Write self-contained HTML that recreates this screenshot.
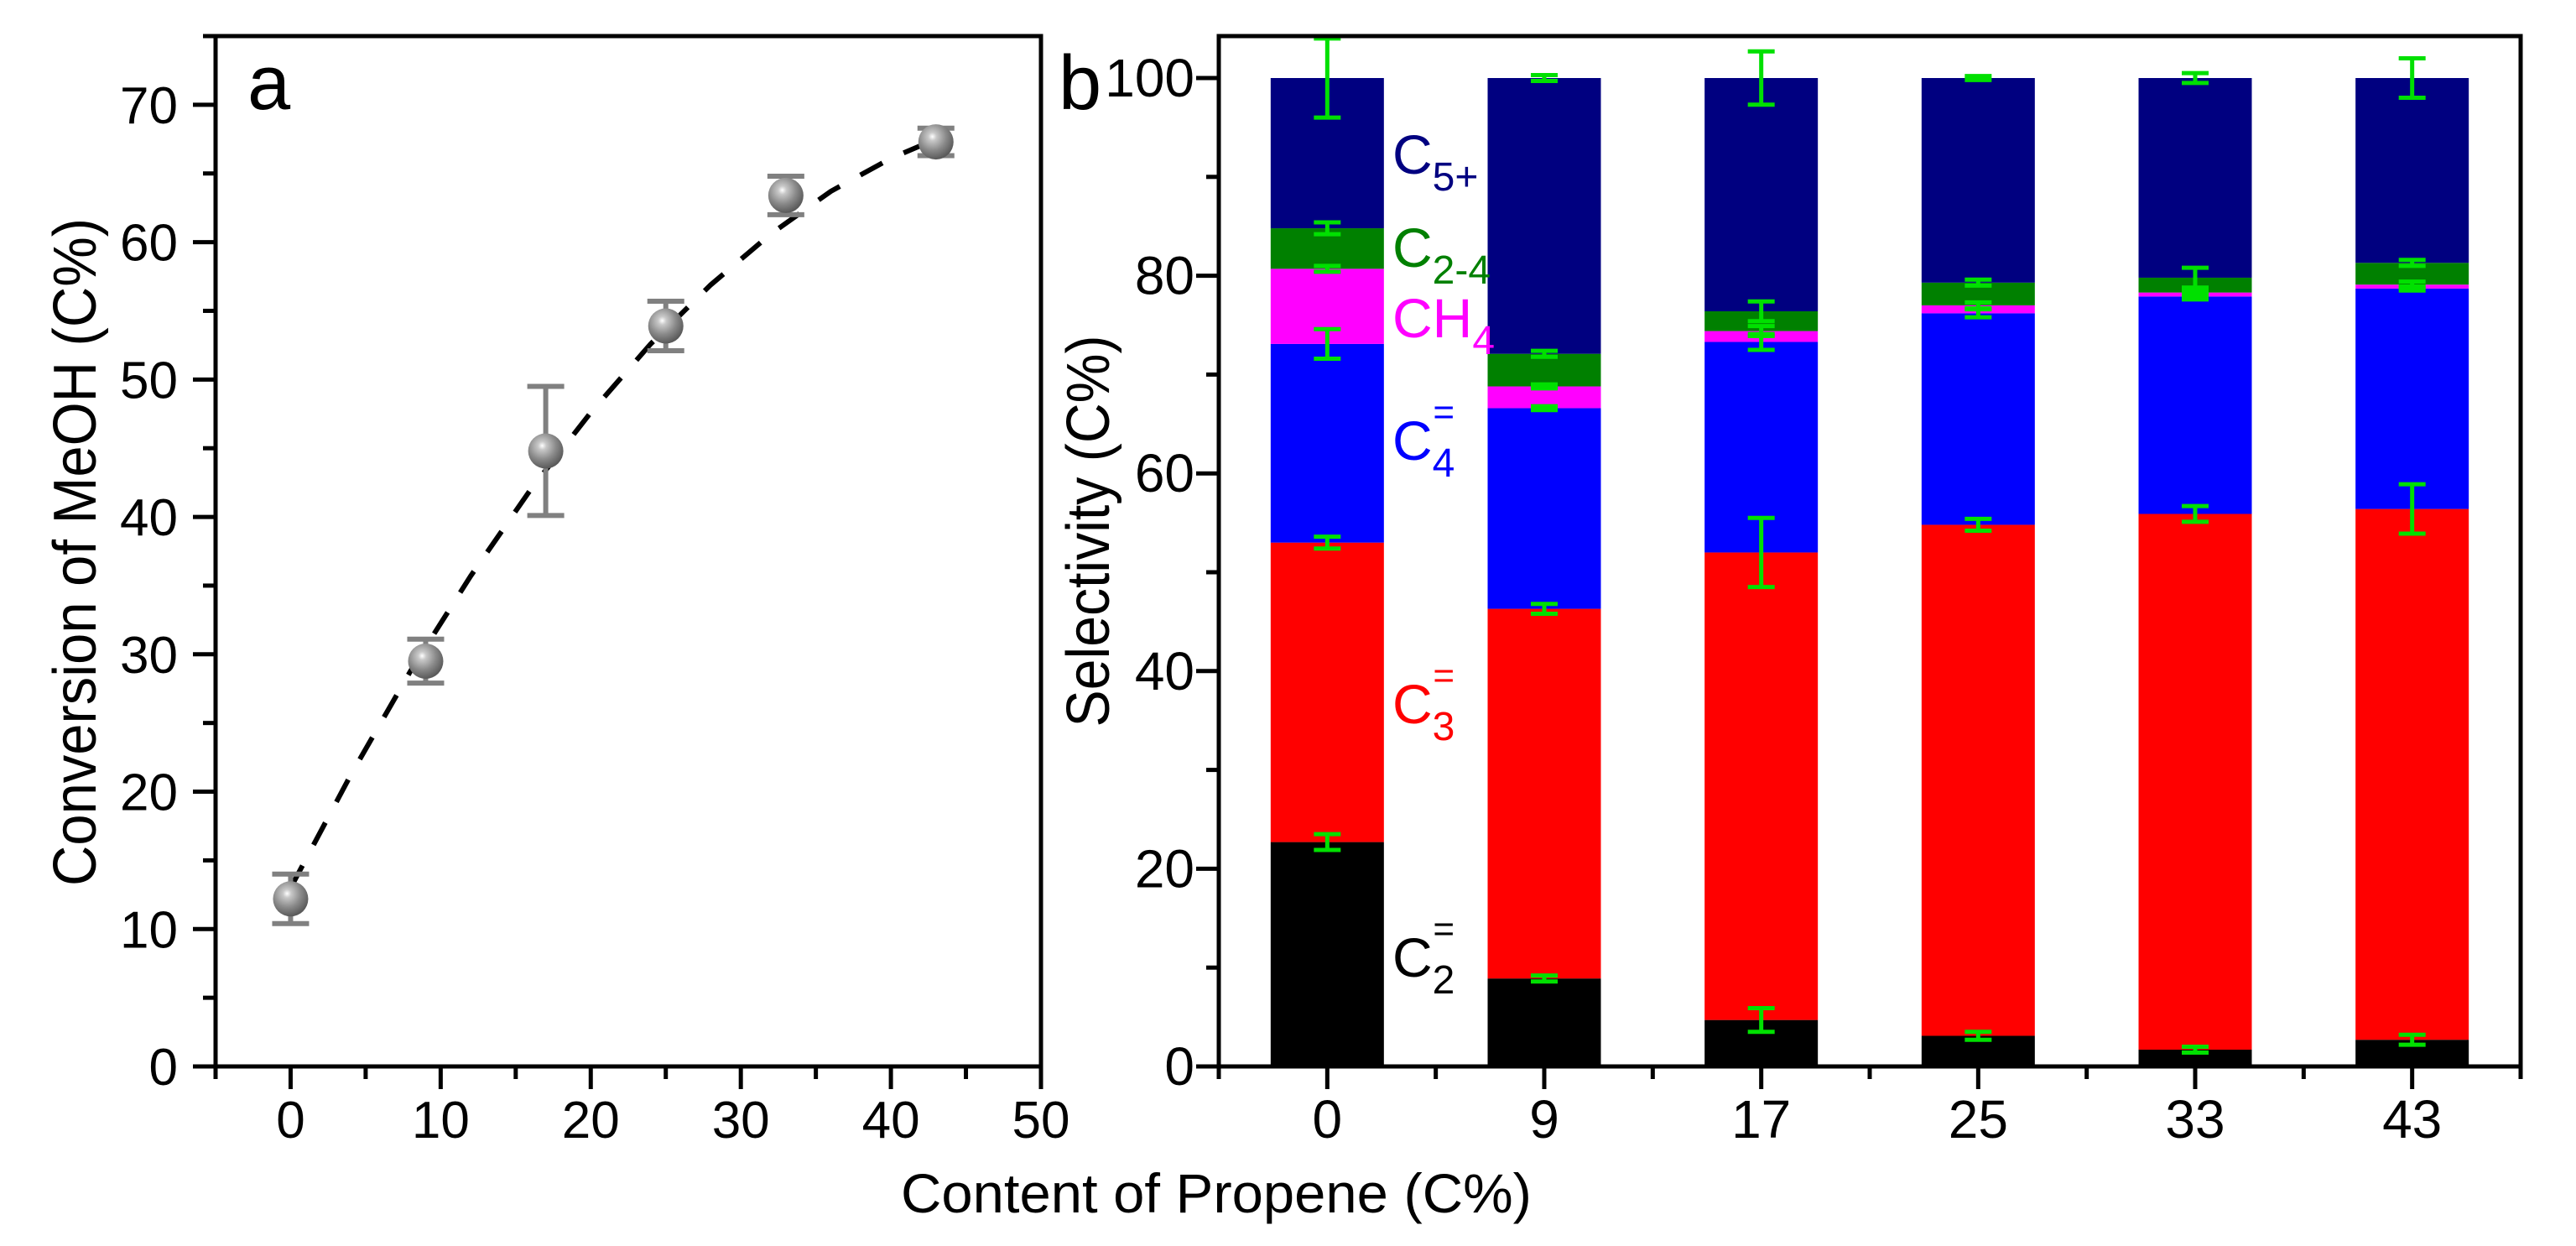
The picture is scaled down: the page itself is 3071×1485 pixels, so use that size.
<!DOCTYPE html>
<html><head><meta charset="utf-8">
<style>
html,body{margin:0;padding:0;background:#fff;}
svg{display:block;font-family:"Liberation Sans",Arial,sans-serif;}
.nar{font-family:"Liberation Sans Narrow","Liberation Sans",sans-serif;}
</style></head>
<body>
<svg id="fig" width="3071" height="1485" viewBox="0 0 3071 1485" xmlns="http://www.w3.org/2000/svg">
<g id="pa"></g>
<g id="pb"></g>
</svg>
<script>
// Panel a data
const propene = [0, 9, 17, 25, 33, 43];
const conversion = [12.2, 29.5, 44.8, 53.9, 63.4, 67.3];
const convErr = [1.8, 1.6, 4.7, 1.8, 1.4, 1.0];
const fitX = [0, 4, 8, 12, 16, 20, 24, 28, 32, 36, 40, 43];
const fitY = [13.0, 21.2, 28.8, 35.7, 42.0, 47.6, 52.6, 56.9, 60.6, 63.7, 66.1, 67.5];
const aXTicks = [0, 10, 20, 30, 40, 50];
const aYTicks = [0, 10, 20, 30, 40, 50, 60, 70];
// Panel b data
const categories = ["0", "9", "17", "25", "33", "43"];
const c2 = [22.7, 8.9, 4.7, 3.1, 1.7, 2.7];
const c3 = [30.3, 37.4, 47.3, 51.7, 54.2, 53.7];
const c4 = [20.1, 20.3, 21.3, 21.4, 22.0, 22.3];
const ch4 = [7.6, 2.2, 1.1, 0.8, 0.4, 0.4];
const c24 = [4.1, 3.3, 2.0, 2.3, 1.5, 2.2];
const c5 = [15.2, 27.9, 23.6, 20.7, 20.2, 18.7];
const c2Err = [0.8, 0.3, 1.2, 0.4, 0.3, 0.5];
const c3Err = [0.6, 0.5, 3.5, 0.6, 0.8, 2.5];
const c4Err = [1.5, 0.2, 0.8, 0.4, 0.3, 0.2];
const ch4Err = [0.3, 0.2, 0.5, 0.3, 0.3, 0.3];
const c24Err = [0.6, 0.3, 1.0, 0.3, 1.0, 0.3];
const c5Err = [4.0, 0.3, 2.7, 0.2, 0.5, 2.0];
const bYTicks = [0, 20, 40, 60, 80, 100];

const NS = "http://www.w3.org/2000/svg";
function mk(parent, tag, attrs, text) {
  const e = document.createElementNS(NS, tag);
  for (const k in attrs) e.setAttribute(k, attrs[k]);
  if (text !== undefined) e.textContent = text;
  parent.appendChild(e);
  return e;
}
const pa = document.getElementById('pa');
const pb = document.getElementById('pb');

// ---- Panel a ----
const aL = 257, aR = 1241, aT = 43, aB = 1271;
const ax = v => aL + (v + 5) / 55 * (aR - aL);
const ay = v => aB - v / 75 * (aB - aT);
const defs = mk(pa, 'defs', {});
const rg = mk(defs, 'radialGradient', {id: 'sph', cx: '0.4', cy: '0.35', r: '0.65'});
mk(rg, 'stop', {offset: '0', 'stop-color': '#ffffff'});
mk(rg, 'stop', {offset: '0.18', 'stop-color': '#c8c8c8'});
mk(rg, 'stop', {offset: '0.6', 'stop-color': '#8a8a8a'});
mk(rg, 'stop', {offset: '1', 'stop-color': '#5a5a5a'});

for (let v = 0; v <= 75; v += 5) {
  const t = mk(pa, 'line', {x1: aL, x2: aL - (v % 10 === 0 ? 27 : 15), y1: ay(v), y2: ay(v), stroke: '#000', 'stroke-width': 5});
  
  
}
for (let v = -5; v <= 50; v += 5) {
  const t = mk(pa, 'line', {x1: ax(v), x2: ax(v), y1: aB, y2: aB + (v % 10 === 0 ? 27 : 15), stroke: '#000', 'stroke-width': 5});
  
  
}
aYTicks.forEach(v => {
  const t = mk(pa, 'text', {x: 212, y: ay(v) + 22, 'text-anchor': 'end', 'font-size': 62}, String(v));
  
  
});
aXTicks.forEach(v => {
  const t = mk(pa, 'text', {x: ax(v), y: 1356, 'text-anchor': 'middle', 'font-size': 62}, String(v));
  
  
});
let d = '';
fitX.forEach((x, i) => { d += (i ? 'L' : 'M') + ax(x).toFixed(1) + ' ' + ay(fitY[i]).toFixed(1); });
const fit = mk(pa, 'path', {d: d, fill: 'none', stroke: '#000', 'stroke-width': 6, 'stroke-dasharray': '30 28'});


propene.forEach((x, i) => {
  const cx = ax(x), y1 = ay(conversion[i] - convErr[i]), y2 = ay(conversion[i] + convErr[i]);
  const g = mk(pa, 'g', {stroke: '#808080', 'stroke-width': 6});
  
  
  mk(g, 'line', {x1: cx, x2: cx, y1: y1, y2: y2});
  mk(g, 'line', {x1: cx - 22, x2: cx + 22, y1: y1, y2: y1});
  mk(g, 'line', {x1: cx - 22, x2: cx + 22, y1: y2, y2: y2});
  const m = mk(pa, 'circle', {cx: cx, cy: ay(conversion[i]), r: 21, fill: 'url(#sph)'});
  
  
});
const fa = mk(pa, 'rect', {x: aL, y: aT, width: aR - aL, height: aB - aT, fill: 'none', stroke: '#000', 'stroke-width': 5});


const la = mk(pa, 'text', {x: 295, y: 130, 'font-size': 92}, 'a');


const yta = mk(pa, 'text', {x: 0, y: 0, 'text-anchor': 'middle', 'font-size': 72, textLength: 796, lengthAdjust: 'spacingAndGlyphs', transform: 'translate(114,658) rotate(-90)'}, 'Conversion of MeOH (C%)');


const xt = mk(pa, 'text', {x: 1450, y: 1445, 'text-anchor': 'middle', 'font-size': 66, textLength: 752, lengthAdjust: 'spacingAndGlyphs'}, 'Content of Propene (C%)');



// ---- Panel b ----
const bL = 1453, bR = 3005, bT = 43, bB = 1271;
const bx = i => bL + (i + 0.5) / 6 * (bR - bL);
const by = v => bB - v / 100 * (bB - 93);
const bw = 135;
const series = [
  {vals: c2, err: c2Err, color: '#000000', name: 'c2'},
  {vals: c3, err: c3Err, color: '#ff0000', name: 'c3'},
  {vals: c4, err: c4Err, color: '#0000ff', name: 'c4'},
  {vals: ch4, err: ch4Err, color: '#ff00ff', name: 'ch4'},
  {vals: c24, err: c24Err, color: '#008000', name: 'c2-4'},
  {vals: c5, err: c5Err, color: '#000080', name: 'c5'}
];
const errs = [];
categories.forEach((c, i) => {
  let base = 0;
  series.forEach(s => {
    const top = base + s.vals[i];
    const r = mk(pb, 'rect', {x: bx(i) - bw / 2, y: by(top), width: bw, height: by(base) - by(top), fill: s.color});
    
    
    errs.push([bx(i), top, s.err[i]]);
    base = top;
  });
});
errs.forEach(e => {
  const g = mk(pb, 'g', {stroke: '#00e000', 'stroke-width': 5});
  
  
  const y1 = by(e[1] - e[2]), y2 = by(e[1] + e[2]);
  mk(g, 'line', {x1: e[0], x2: e[0], y1: y1, y2: y2});
  mk(g, 'line', {x1: e[0] - 16, x2: e[0] + 16, y1: y1, y2: y1});
  mk(g, 'line', {x1: e[0] - 16, x2: e[0] + 16, y1: y2, y2: y2});
});
for (let v = 0; v <= 100; v += 10) {
  const t = mk(pb, 'line', {x1: bL, x2: bL - (v % 20 === 0 ? 27 : 15), y1: by(v), y2: by(v), stroke: '#000', 'stroke-width': 5});
  
  
}
for (let k = 0; k <= 6; k++) {
  const xx = bL + k / 6 * (bR - bL);
  const t = mk(pb, 'line', {x1: xx, x2: xx, y1: bB, y2: bB + 15, stroke: '#000', 'stroke-width': 5});
  
  
}
categories.forEach((c, i) => {
  const t = mk(pb, 'line', {x1: bx(i), x2: bx(i), y1: bB, y2: bB + 27, stroke: '#000', 'stroke-width': 5});
  
  
  const l = mk(pb, 'text', {x: bx(i), y: 1356, 'text-anchor': 'middle', 'font-size': 64, 'class': 'nar'}, c);
  
  
});
bYTicks.forEach(v => {
  const t = mk(pb, 'text', {x: 1424, y: by(v) + 22, 'text-anchor': 'end', 'font-size': 64, 'class': 'nar'}, String(v));
  
  
});
const fb = mk(pb, 'rect', {x: bL, y: bT, width: bR - bL, height: bB - bT, fill: 'none', stroke: '#000', 'stroke-width': 5});


const lb = mk(pb, 'text', {x: 1262, y: 130, 'font-size': 92}, 'b');


const ytb = mk(pb, 'text', {x: 0, y: 0, 'text-anchor': 'middle', 'font-size': 72, textLength: 467, lengthAdjust: 'spacingAndGlyphs', transform: 'translate(1322,633) rotate(-90)'}, 'Selectivity (C%)');



const labels = [
  {main: 'C', sub: '5+', sup: '', color: '#000080', y: 207, name: 'label-c5'},
  {main: 'C', sub: '2-4', sup: '', color: '#008000', y: 318, name: 'label-c2-4'},
  {main: 'CH', sub: '4', sup: '', color: '#ff00ff', y: 402, name: 'label-ch4'},
  {main: 'C', sub: '4', sup: '=', color: '#0000ff', y: 548, name: 'label-c4'},
  {main: 'C', sub: '3', sup: '=', color: '#ff0000', y: 862, name: 'label-c3'},
  {main: 'C', sub: '2', sup: '=', color: '#000000', y: 1164, name: 'label-c2'}
];
labels.forEach(L => {
  const t = mk(pb, 'text', {x: 1660, y: L.y, 'font-size': 66, fill: L.color});
  
  
  mk(t, 'tspan', {}, L.main);
  mk(t, 'tspan', {dy: 20, 'font-size': 48}, L.sub);
  if (L.sup) {
    mk(t, 'tspan', {dx: -26, dy: -62, 'font-size': 44}, L.sup);
  }
});
</script>
</body></html>
